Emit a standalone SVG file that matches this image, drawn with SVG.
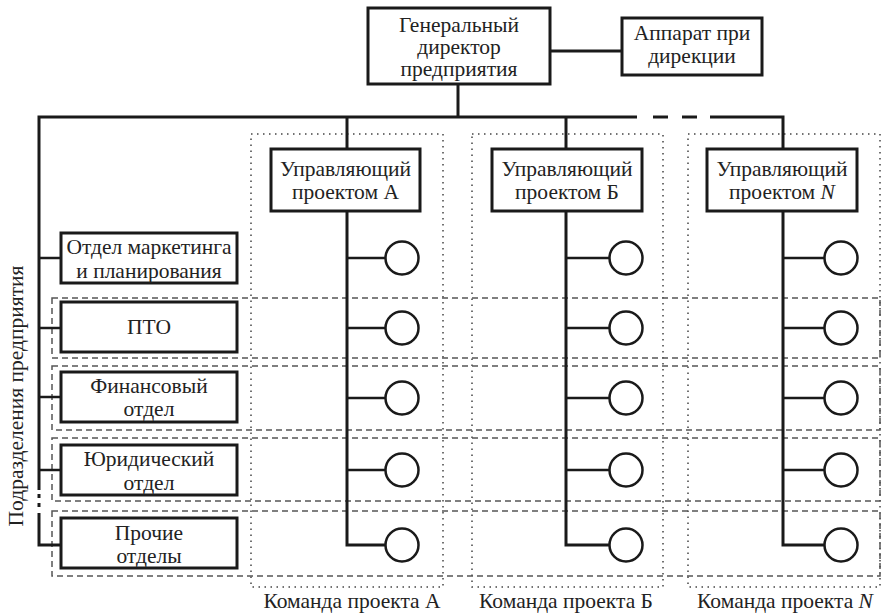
<svg xmlns="http://www.w3.org/2000/svg" width="883" height="614" viewBox="0 0 883 614">
<style>
text{font-family:'Liberation Serif','DejaVu Serif',serif;font-size:21.5px;fill:#222;text-anchor:middle}
.box{fill:#fff;stroke:#1a1a1a;stroke-width:3}
.ln{fill:none;stroke:#1a1a1a;stroke-width:3}
.br{fill:none;stroke:#1a1a1a;stroke-width:2.5}
.cir{fill:#fff;stroke:#1a1a1a;stroke-width:2.5}
.row{fill:none;stroke:#555;stroke-width:1.5;stroke-dasharray:6 4}
.team{fill:none;stroke:#444;stroke-width:1.5;stroke-dasharray:1.5 4.5}
</style>
<rect width="883" height="614" fill="#fff"/>
<g id="team-frames">
<rect class="team" x="251" y="134" width="192" height="453"/>
<rect class="team" x="472" y="134" width="191" height="453"/>
<rect class="team" x="688" y="134" width="192" height="453"/>
</g>
<g id="row-frames">
<rect class="row" x="52" y="298" width="828" height="60"/>
<rect class="row" x="52" y="366" width="828" height="64"/>
<rect class="row" x="52" y="438" width="828" height="63"/>
<rect class="row" x="52" y="511" width="828" height="65"/>
</g>
<g id="connectors">
<line class="ln" x1="550" y1="51" x2="622" y2="51"/>
<line class="ln" x1="458" y1="84" x2="458" y2="117"/>
<polyline class="ln" points="637,117 39,117 39,490"/>
<line class="ln" x1="653" y1="117" x2="668" y2="117"/>
<line class="ln" x1="682" y1="117" x2="697" y2="117"/>
<polyline class="ln" points="710,117 783,117 783,149"/>
<line class="ln" x1="39" y1="494" x2="39" y2="498"/>
<line class="ln" x1="39" y1="503" x2="39" y2="507"/>
<polyline class="ln" points="39,513 39,545 61,545"/>
<line class="br" x1="39" y1="258" x2="61" y2="258"/>
<line class="br" x1="39" y1="328" x2="61" y2="328"/>
<line class="br" x1="39" y1="397" x2="61" y2="397"/>
<line class="br" x1="39" y1="470" x2="61" y2="470"/>
<line class="ln" x1="347" y1="117" x2="347" y2="149"/>
<line class="ln" x1="566" y1="117" x2="566" y2="149"/>
<polyline class="ln" points="347,211 347,545 386,545"/>
<polyline class="ln" points="566,211 566,545 609,545"/>
<polyline class="ln" points="783,211 783,545 824,545"/>
<path class="br" d="M347 258H386M347 328H386M347 398H386M347 470H386M566 258H609M566 328H609M566 398H609M566 470H609M783 258H824M783 328H824M783 398H824M783 470H824"/>
</g>
<g id="gen-director">
<rect class="box" x="368" y="8" width="182" height="76"/>
<text x="459" y="32">Генеральный</text>
<text x="459" y="54">директор</text>
<text x="459" y="76">предприятия</text>
</g>
<g id="apparat">
<rect class="box" x="622" y="18" width="140" height="57"/>
<text x="692" y="40">Аппарат при</text>
<text x="692" y="63">дирекции</text>
</g>
<g id="pm-a">
<rect class="box" x="271" y="149" width="149" height="62"/>
<text x="345.5" y="176">Управляющий</text>
<text x="345.5" y="199">проектом А</text>
</g>
<g id="pm-b">
<rect class="box" x="492" y="149" width="150" height="62"/>
<text x="567" y="176">Управляющий</text>
<text x="567" y="199">проектом Б</text>
</g>
<g id="pm-n">
<rect class="box" x="707" y="149" width="150" height="62"/>
<text x="782" y="176">Управляющий</text>
<text x="782" y="199">проектом <tspan font-style="italic">N</tspan></text>
</g>
<g id="dept-marketing">
<rect class="box" x="61" y="233" width="176" height="50"/>
<text x="149" y="254">Отдел маркетинга</text>
<text x="149" y="278">и планирования</text>
</g>
<g id="dept-pto">
<rect class="box" x="61" y="302" width="176" height="50"/>
<text x="149" y="334">ПТО</text>
</g>
<g id="dept-finance">
<rect class="box" x="61" y="372" width="176" height="50"/>
<text x="149" y="393">Финансовый</text>
<text x="149" y="416">отдел</text>
</g>
<g id="dept-legal">
<rect class="box" x="61" y="445" width="176" height="50"/>
<text x="149" y="466">Юридический</text>
<text x="149" y="490">отдел</text>
</g>
<g id="dept-other">
<rect class="box" x="61" y="518" width="176" height="50"/>
<text x="149" y="540">Прочие</text>
<text x="149" y="563">отделы</text>
</g>
<g id="team-a-members">
<circle class="cir" cx="402" cy="258" r="16.5"/>
<circle class="cir" cx="402" cy="328" r="16.5"/>
<circle class="cir" cx="402" cy="398" r="16.5"/>
<circle class="cir" cx="402" cy="470" r="16.5"/>
<circle class="cir" cx="402" cy="545" r="16.5"/>
</g>
<g id="team-b-members">
<circle class="cir" cx="626" cy="258" r="16.5"/>
<circle class="cir" cx="626" cy="328" r="16.5"/>
<circle class="cir" cx="626" cy="398" r="16.5"/>
<circle class="cir" cx="626" cy="470" r="16.5"/>
<circle class="cir" cx="626" cy="545" r="16.5"/>
</g>
<g id="team-n-members">
<circle class="cir" cx="841" cy="258" r="16.5"/>
<circle class="cir" cx="841" cy="328" r="16.5"/>
<circle class="cir" cx="841" cy="398" r="16.5"/>
<circle class="cir" cx="841" cy="470" r="16.5"/>
<circle class="cir" cx="841" cy="545" r="16.5"/>
</g>
<g id="labels">
<text x="352" y="608">Команда проекта А</text>
<text x="566" y="608">Команда проекта Б</text>
<text x="785" y="608">Команда проекта <tspan font-style="italic">N</tspan></text>
<text transform="translate(23 396) rotate(-90)">Подразделения предприятия</text>
</g>
</svg>
